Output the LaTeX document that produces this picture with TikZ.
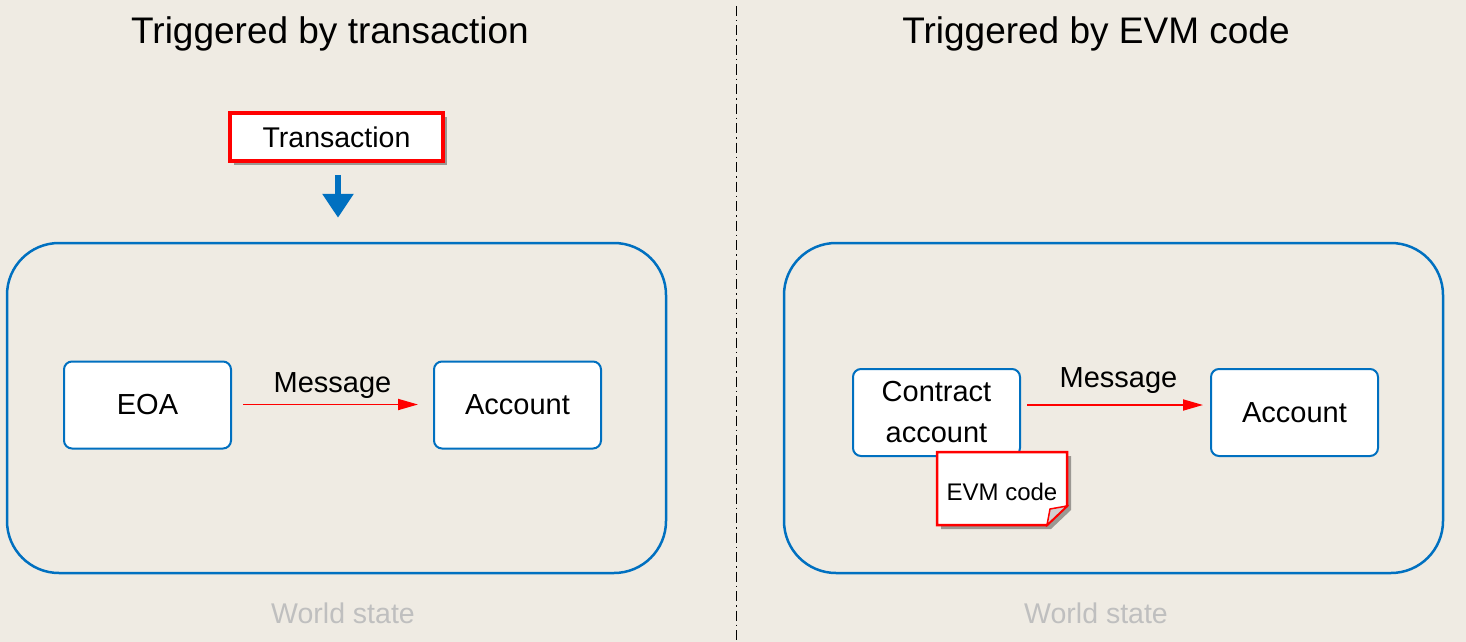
\documentclass[tikz,border=0pt]{standalone}
\usepackage{fontspec}
\setmainfont{Liberation Sans}
\usetikzlibrary{arrows.meta,shadows}
\definecolor{bg}{RGB}{239,235,227}
\definecolor{myblue}{RGB}{0,112,192}
\definecolor{wsgray}{RGB}{191,191,191}
\definecolor{myred}{RGB}{255,0,0}
\tikzset{
  world/.style={draw=myblue, line width=2.5pt, rounded corners=52pt, inner sep=0pt},
  acctbox/.style={draw=myblue, line width=2pt, fill=white, rounded corners=8pt,
     minimum width=167pt, minimum height=87pt, inner sep=0pt, font=\fontsize{29}{41}\selectfont, align=center},
  txbox/.style={draw=myred, line width=3.5pt, fill=white, minimum width=213pt, minimum height=48pt,
     inner sep=0pt, font=\fontsize{28.5}{32}\selectfont,
     drop shadow={shadow xshift=4pt, shadow yshift=-4pt, fill=black, opacity=0.35}},
  msg/.style={draw=myred, line width=1.8pt, -{Triangle[length=20pt 0, width=11pt 0]}},
  msglabel/.style={font=\fontsize{29}{32}\selectfont, inner sep=0pt},
  title/.style={font=\fontsize{37}{42}\selectfont, inner sep=0pt},
  wslabel/.style={font=\fontsize{28.5}{32}\selectfont, text=wsgray, inner sep=0pt},
  bigarrow/.style={draw=myblue, line width=6pt, -{Triangle[length=24pt 0, width=30pt 0]}},
  notebox/.style={draw=myred, line width=2.5pt, fill=white, line join=miter},
}
\begin{document}
\begin{tikzpicture}[x=1pt,y=-1pt]
\fill[bg] (0,0) rectangle (1466,642);
\useasboundingbox (0,0) rectangle (1466,642);

% separator
\coordinate (septop) at (736.7,6);
\coordinate (sepbot) at (736.7,642);
\draw[black, line width=1.2pt, dash pattern=on 10pt off 4pt on 1.5pt off 4pt] (septop) -- (sepbot);

% titles
\node[title] (t1) at (330,34) {Triggered by transaction};
\node[title] (t2) at (1096,34) {Triggered by EVM code};

% left world state
\node[world, minimum width=659pt, minimum height=330pt] (ws1) at (336.5,408) {};
\node[wslabel] (wl1) at (343,613) {World state};
\node[txbox] (tx) at (336.5,137) {Transaction};
\draw[bigarrow, shorten <=12pt, shorten >=24pt] ([xshift=1.5pt]tx.south) -- ([xshift=1.5pt]ws1.north);
\node[acctbox] (eoa) at (147.5,405) {EOA};
\node[acctbox] (acc1) at (517.5,405) {Account};
\draw[msg, shorten <=11pt, shorten >=15pt] ([yshift=0.5pt]eoa.east) -- ([yshift=0.5pt]acc1.west)
  node[msglabel, midway, yshift=19pt] (m1) {Message};

% right world state
\node[world, minimum width=659pt, minimum height=330pt] (ws2) at (1113.5,408) {};
\node[wslabel] (wl2) at (1096,613) {World state};
\node[acctbox] (cacc) at (936.5,412.5) {Contract\\account};
\node[acctbox] (acc2) at (1294.5,412.5) {Account};
\draw[msg, shorten <=6pt, shorten >=7pt] ([yshift=7.5pt]cacc.east) -- ([yshift=7.5pt]acc2.west)
  node[msglabel, midway, yshift=24pt, xshift=3pt] (m2) {Message};

% EVM code note
\path[notebox, drop shadow={shadow xshift=4pt, shadow yshift=-4pt, fill=black, opacity=0.35}]
  (937,452) -- (1067,452) -- (1067,506) -- (1047,525) -- (937,525) -- cycle;
\draw[myred, line width=1.5pt, fill=black!18, line join=miter] (1047,525) -- (1050,509) -- (1067,506) -- cycle;
\node[font=\fontsize{24}{28}\selectfont, inner sep=0pt] (evm) at (1002,492) {EVM code};
\end{tikzpicture}
\end{document}
